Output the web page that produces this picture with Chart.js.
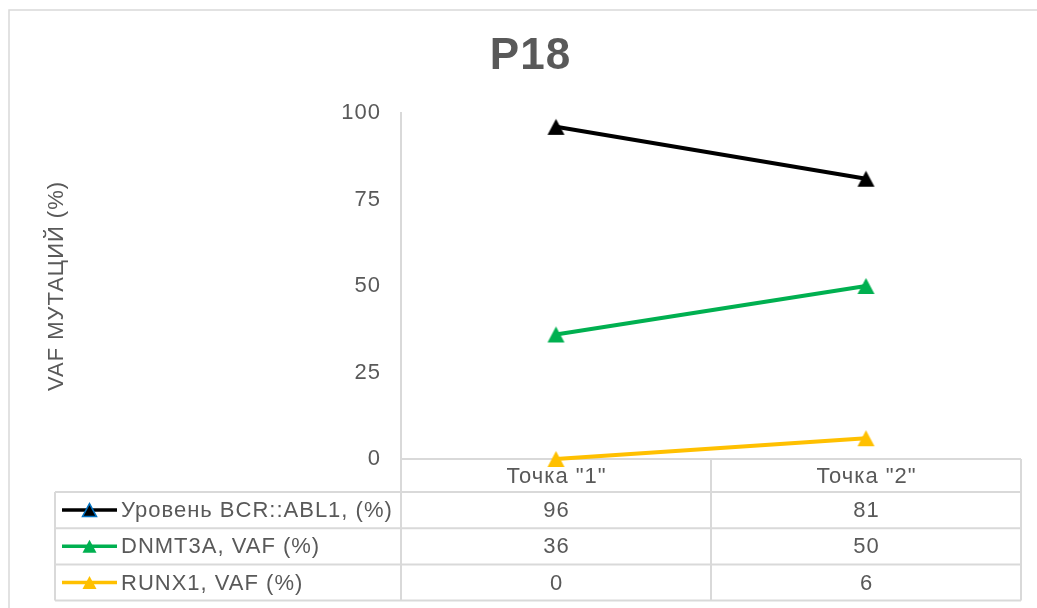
<!DOCTYPE html>
<html>
<head>
<meta charset="utf-8">
<script src="https://cdn.jsdelivr.net/npm/chart.js@4.4.1/dist/chart.umd.min.js"></script>
<style>
  html, body { margin: 0; padding: 0; background: #ffffff; }
  #wrap { width: 1037px; height: 608px; position: relative; }
</style>
</head>
<body>
<div id="wrap"><canvas id="c" width="1037" height="608"></canvas></div>
<script>
// Time points and VAF / transcript level values
const categories = ['Точка "1"', 'Точка "2"'];
const seriesNames = ['Уровень BCR::ABL1, (%)', 'DNMT3A, VAF (%)', 'RUNX1, VAF (%)'];
const bcrAbl1 = [96, 81];
const dnmt3a = [36, 50];
const runx1 = [0, 6];
const yTicks = [0, 25, 50, 75, 100];

const FONT = "'Liberation Sans', Arial, sans-serif";
const TEXT = '#595959';
const RULE = '#d9d9d9';
const COLORS = ['#000000', '#00B050', '#FFC000'];
const MARKER_EDGE = ['#0070C0', null, null];
const TRACKING = '1px';
const TEXT_SIZE = 22;

// Upright triangle marker centred in its own box
function triangleImage(fill, stroke, w, h) {
  const pad = 2;
  const c = document.createElement('canvas');
  c.width = w + pad * 2;
  c.height = h + pad * 2;
  const g = c.getContext('2d');
  g.beginPath();
  g.moveTo(pad + w / 2, pad);
  g.lineTo(pad + w, pad + h);
  g.lineTo(pad, pad + h);
  g.closePath();
  g.fillStyle = fill;
  g.fill();
  if (stroke) { g.strokeStyle = stroke; g.lineWidth = 1.5; g.stroke(); }
  return c;
}

function drawTriangle(ctx, cx, cy, w, h, fill, stroke) {
  ctx.beginPath();
  ctx.moveTo(cx, cy - h / 2);
  ctx.lineTo(cx + w / 2, cy + h / 2);
  ctx.lineTo(cx - w / 2, cy + h / 2);
  ctx.closePath();
  ctx.fillStyle = fill;
  ctx.fill();
  if (stroke) { ctx.strokeStyle = stroke; ctx.lineWidth = 1.5; ctx.stroke(); }
}

const seriesValues = [bcrAbl1, dnmt3a, runx1];

// Light frame around the whole chart, plus slightly open text tracking
const framePlugin = {
  id: 'frame',
  beforeDraw(chart) {
    const ctx = chart.ctx;
    ctx.letterSpacing = TRACKING;
    ctx.save();
    ctx.strokeStyle = RULE;
    ctx.lineWidth = 1.5;
    ctx.strokeRect(9, 10, chart.width + 10, chart.height + 10);
    ctx.restore();
  }
};

// Data table under the plot: category header, legend keys and values
const dataTablePlugin = {
  id: 'dataTable',
  beforeDatasetsDraw(chart) {
    const ctx = chart.ctx;
    const area = chart.chartArea;
    const xs = chart.scales.x;
    const step = xs.getPixelForValue(1) - xs.getPixelForValue(0);
    const colEdges = [xs.getPixelForValue(0) - step / 2];
    categories.forEach((c, i) => colEdges.push(xs.getPixelForValue(i) + step / 2));
    const legendLeft = 55;
    const top = area.bottom;
    const headerH = 33;
    const rowH = 36.2;
    const rows = [top, top + headerH];
    seriesNames.forEach((n, i) => rows.push(top + headerH + rowH * (i + 1)));
    const bottom = rows[rows.length - 1];

    ctx.save();
    ctx.letterSpacing = TRACKING;
    ctx.strokeStyle = RULE;
    ctx.lineWidth = 2;
    ctx.beginPath();
    // horizontal rules
    ctx.moveTo(colEdges[0], rows[0]); ctx.lineTo(colEdges[colEdges.length - 1], rows[0]);
    for (let r = 1; r < rows.length; r++) {
      ctx.moveTo(legendLeft, rows[r]); ctx.lineTo(colEdges[colEdges.length - 1], rows[r]);
    }
    // vertical rules
    ctx.moveTo(legendLeft, rows[1]); ctx.lineTo(legendLeft, bottom);
    colEdges.forEach(x => { ctx.moveTo(x, rows[0]); ctx.lineTo(x, bottom); });
    ctx.stroke();

    ctx.fillStyle = TEXT;
    ctx.font = TEXT_SIZE + 'px ' + FONT;
    ctx.textBaseline = 'middle';
    ctx.textAlign = 'center';
    categories.forEach((c, i) => {
      ctx.fillText(c, xs.getPixelForValue(i) + 0.5, (rows[0] + rows[1]) / 2 + 1);
    });
    seriesNames.forEach((name, s) => {
      const cy = (rows[s + 1] + rows[s + 2]) / 2;
      ctx.textAlign = 'center';
      ctx.fillStyle = TEXT;
      seriesValues[s].forEach((v, i) => ctx.fillText(String(v), xs.getPixelForValue(i) + 0.5, cy + 1));
      // legend key: line sample with marker
      ctx.strokeStyle = COLORS[s];
      ctx.lineWidth = 3.5;
      ctx.beginPath();
      ctx.moveTo(62, cy); ctx.lineTo(117, cy);
      ctx.stroke();
      drawTriangle(ctx, 89.5, cy, 14, 13, COLORS[s], MARKER_EDGE[s]);
      ctx.textAlign = 'left';
      ctx.fillStyle = TEXT;
      ctx.fillText(name, 121, cy + 1);
    });
    ctx.restore();
  }
};

function lineSeries(label, values, color) {
  return {
    label: label,
    data: values,
    borderColor: color,
    backgroundColor: color,
    borderWidth: 4,
    pointStyle: triangleImage(color, null, 17, 16),
    pointRadius: 9,
    clip: false,
    tension: 0
  };
}

new Chart(document.getElementById('c'), {
  type: 'line',
  data: {
    labels: categories,
    datasets: [
      lineSeries(seriesNames[0], bcrAbl1, COLORS[0]),
      lineSeries(seriesNames[1], dnmt3a, COLORS[1]),
      lineSeries(seriesNames[2], runx1, COLORS[2])
    ]
  },
  options: {
    responsive: false,
    animation: false,
    devicePixelRatio: 1,
    layout: { padding: { left: 40, right: 16, top: 0, bottom: 149 } },
    plugins: {
      legend: { display: false },
      tooltip: { enabled: false },
      title: {
        display: true,
        text: 'P18',
        color: TEXT,
        font: { family: FONT, size: 44, weight: 'bold' },
        padding: { top: 30, bottom: 30.2 }
      }
    },
    scales: {
      x: { type: 'category', display: false, offset: true },
      y: {
        min: 0,
        max: 100,
        afterBuildTicks: s => { s.ticks = yTicks.map(v => ({ value: v })); },
        afterFit: s => { s.width = 361; },
        ticks: { color: TEXT, font: { family: FONT, size: TEXT_SIZE }, padding: 20 },
        grid: { display: false, drawTicks: false },
        border: { display: true, color: RULE, width: 2 },
        title: {
          display: true,
          text: 'VAF МУТАЦИЙ (%)',
          color: TEXT,
          font: { family: FONT, size: TEXT_SIZE },
          padding: { top: 4, bottom: 4 }
        }
      }
    }
  },
  plugins: [framePlugin, dataTablePlugin]
});
</script>
</body>
</html>
